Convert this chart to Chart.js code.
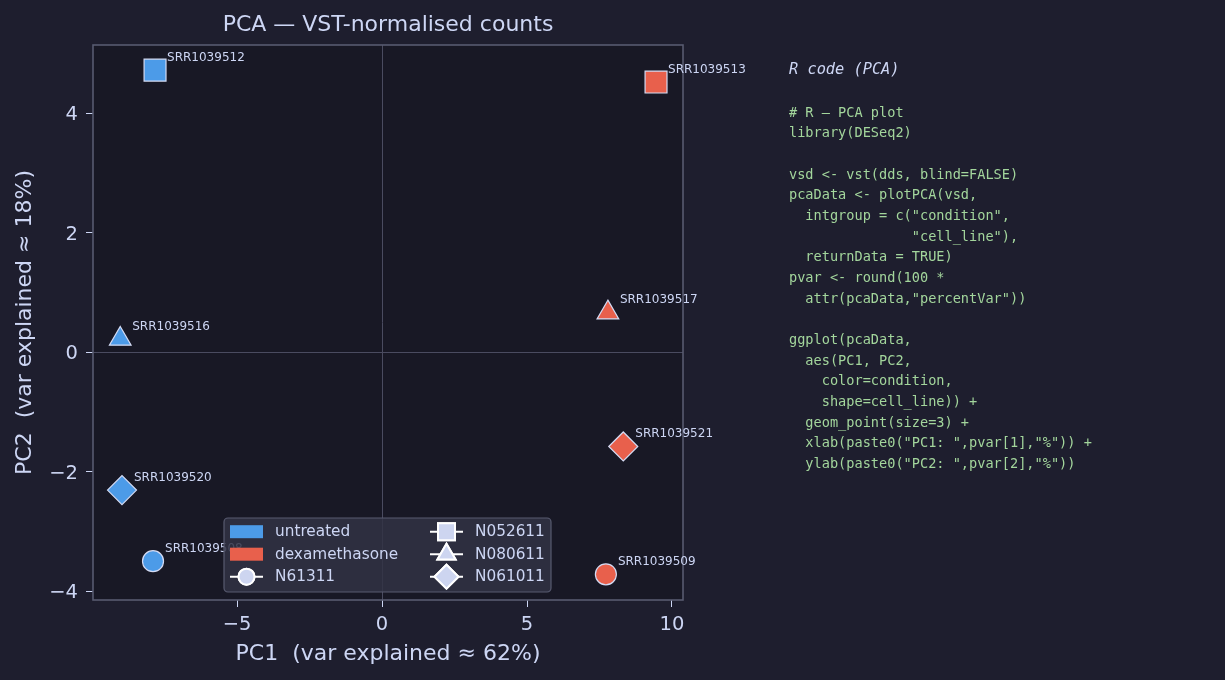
<!DOCTYPE html>
<html>
<head>
<meta charset="utf-8">
<title>PCA — VST-normalised counts</title>
<script src="https://cdn.jsdelivr.net/npm/chart.js@4/dist/chart.umd.min.js"></script>
<style>
  html, body { margin: 0; padding: 0; background: #1e1e2e; }
  #wrap { position: relative; width: 1225px; height: 680px; overflow: hidden; }
  #pca { position: absolute; left: 0; top: 0; }
  #code-title {
    position: absolute; left: 789px; top: 59px;
    font: italic 15.3px 'DejaVu Sans Mono', monospace;
    line-height: 20px; color: #cdd6f4; white-space: pre;
  }
  #code {
    position: absolute; left: 789px; top: 101.7px; margin: 0;
    font: 13.6px 'DejaVu Sans Mono', monospace;
    line-height: 20.65px; color: #a3d69c;
  }
</style>
</head>
<body>
<div id="wrap">
  <canvas id="pca" width="1225" height="680"></canvas>
  <div id="code-title">R code (PCA)</div>
<pre id="code"># R — PCA plot
library(DESeq2)

vsd &lt;- vst(dds, blind=FALSE)
pcaData &lt;- plotPCA(vsd,
  intgroup = c("condition",
               "cell_line"),
  returnData = TRUE)
pvar &lt;- round(100 *
  attr(pcaData,"percentVar"))

ggplot(pcaData,
  aes(PC1, PC2,
    color=condition,
    shape=cell_line)) +
  geom_point(size=3) +
  xlab(paste0("PC1: ",pvar[1],"%")) +
  ylab(paste0("PC2: ",pvar[2],"%"))</pre>
</div>
<script>
// サンプルと主成分スコア
const samples = ['SRR1039508', 'SRR1039509', 'SRR1039512', 'SRR1039513',
                 'SRR1039516', 'SRR1039517', 'SRR1039520', 'SRR1039521'];
const sampleCondition = ['untreated', 'dexamethasone', 'untreated', 'dexamethasone',
                         'untreated', 'dexamethasone', 'untreated', 'dexamethasone'];
const sampleCellLine = ['N61311', 'N61311', 'N052611', 'N052611',
                        'N080611', 'N080611', 'N061011', 'N061011'];
const pc1 = [-7.90, 7.72, -7.83, 9.45, -9.03, 7.79, -8.97, 8.32];
const pc2 = [-3.50, -3.72, 4.72, 4.52, 0.22, 0.66, -2.31, -1.58];

const conditions = ['untreated', 'dexamethasone'];
const cellLines = ['N61311', 'N052611', 'N080611', 'N061011'];

const xTicks = [-5, 0, 5, 10];
const yTicks = [-4, -2, 0, 2, 4];
const xRange = [-9.97, 10.38];
const yRange = [-4.15, 5.14];

// 見た目の設定
const TEXT = '#cdd6f4';
const FRAME = '#585b70';
const CONDITION_COLORS = { untreated: '#4c9be8', dexamethasone: '#e8604c' };
const SHAPES = {
  N61311: { style: 'circle', r: 10.5, legendR: 8 },
  N052611: { style: 'rect', r: 15.5, legendR: 12 },
  N080611: { style: 'triangle', r: 12.5, legendR: 10.5 },
  N061011: { style: 'rectRot', r: 14.5, legendR: 12 },
};

Chart.defaults.font.family = "'DejaVu Sans', sans-serif";

const fmtTick = (v) => (v < 0 ? '\u2212' + Math.abs(v) : String(v));

// プロット領域の背景と枠
const plotFrame = {
  id: 'plotFrame',
  beforeDraw(chart) {
    const { ctx, chartArea: a } = chart;
    ctx.save();
    ctx.fillStyle = '#181825';
    ctx.fillRect(a.left, a.top, a.right - a.left, a.bottom - a.top);
    ctx.restore();
  },
  beforeDatasetsDraw(chart) {
    const { ctx, chartArea: a } = chart;
    ctx.save();
    ctx.strokeStyle = FRAME;
    ctx.lineWidth = 1.6;
    ctx.strokeRect(a.left, a.top, a.right - a.left, a.bottom - a.top);
    ctx.restore();
  },
};

// 各点のサンプル名
const sampleLabels = {
  id: 'sampleLabels',
  afterDatasetsDraw(chart) {
    const { ctx } = chart;
    const meta = chart.getDatasetMeta(0);
    ctx.save();
    ctx.fillStyle = TEXT;
    ctx.font = "12px 'DejaVu Sans', sans-serif";
    ctx.textAlign = 'left';
    ctx.textBaseline = 'middle';
    meta.data.forEach((pt, i) => {
      ctx.fillText(samples[i], pt.x + 12, pt.y - 12.5);
    });
    ctx.restore();
  },
};

// 凡例（プロット内に配置）
const insideLegend = {
  id: 'insideLegend',
  afterDraw(chart) {
    const { ctx, chartArea: a } = chart;
    const items = [
      ...conditions.map((c) => ({ kind: 'patch', label: c, color: CONDITION_COLORS[c] })),
      ...cellLines.map((cl) => ({ kind: 'marker', label: cl, shape: SHAPES[cl] })),
    ];
    const rows = 3;
    const boxX = a.left + 131;
    const boxY = a.bottom - 82;
    const boxW = 327;
    const boxH = 74;
    const rowH = 22.5;
    const colW = 200;

    ctx.save();
    ctx.beginPath();
    ctx.roundRect(boxX, boxY, boxW, boxH, 4);
    ctx.fillStyle = 'rgba(49, 50, 68, 0.85)';
    ctx.fill();
    ctx.strokeStyle = FRAME;
    ctx.lineWidth = 1.2;
    ctx.stroke();

    ctx.font = "15.3px 'DejaVu Sans', sans-serif";
    ctx.textBaseline = 'middle';
    ctx.textAlign = 'left';

    items.forEach((it, i) => {
      const col = Math.floor(i / rows);
      const row = i % rows;
      const hx = boxX + 6 + col * colW;
      const cy = boxY + 13.7 + row * rowH;
      if (it.kind === 'patch') {
        ctx.fillStyle = it.color;
        ctx.fillRect(hx, cy - 6.5, 33, 13);
      } else {
        ctx.strokeStyle = '#ffffff';
        ctx.lineWidth = 2;
        ctx.beginPath();
        ctx.moveTo(hx, cy);
        ctx.lineTo(hx + 33, cy);
        ctx.stroke();
        Chart.helpers.drawPoint(ctx, {
          pointStyle: it.shape.style,
          radius: it.shape.legendR,
          borderWidth: 2,
          rotation: 0,
        }, hx + 16.5, cy);
        ctx.fillStyle = '#cdd5f0';
        ctx.fill();
        ctx.stroke();
      }
      ctx.fillStyle = TEXT;
      ctx.fillText(it.label, hx + 45, cy + 0.8);
    });
    ctx.restore();
  },
};

new Chart(document.getElementById('pca'), {
  type: 'scatter',
  data: {
    datasets: [{
      label: 'samples',
      data: pc1.map((x, i) => ({ x, y: pc2[i] })),
      backgroundColor: sampleCondition.map((c) => CONDITION_COLORS[c]),
      pointStyle: sampleCellLine.map((cl) => SHAPES[cl].style),
      pointRadius: sampleCellLine.map((cl) => SHAPES[cl].r),
      pointHoverRadius: sampleCellLine.map((cl) => SHAPES[cl].r),
      borderColor: '#d4dbf4',
      borderWidth: 1.2,
    }],
  },
  options: {
    responsive: false,
    animation: false,
    events: [],
    layout: { padding: { left: 0, right: 542, top: 0, bottom: 0 } },
    plugins: {
      legend: { display: false },
      tooltip: { enabled: false },
      title: {
        display: true,
        text: 'PCA — VST-normalised counts',
        color: TEXT,
        fullSize: false,
        font: { size: 22, weight: 'normal' },
        padding: { top: 12, bottom: 6.6 },
      },
    },
    scales: {
      x: {
        type: 'linear',
        position: 'bottom',
        min: xRange[0],
        max: xRange[1],
        afterFit: (s) => { s.height = 80; },
        afterBuildTicks: (s) => { s.ticks = xTicks.map((v) => ({ value: v })); },
        ticks: { color: TEXT, font: { size: 19.5 }, padding: 6, callback: fmtTick },
        grid: {
          color: (c) => (c.tick && c.tick.value === 0 ? '#4a4b60' : 'transparent'),
          tickColor: TEXT,
          tickLength: 7,
          lineWidth: 1,
        },
        border: { display: false },
        title: {
          display: true,
          text: 'PC1  (var explained ≈ 62%)',
          color: TEXT,
          font: { size: 22 },
          padding: { top: 0, bottom: 12.8 },
        },
      },
      y: {
        type: 'linear',
        position: 'left',
        min: yRange[0],
        max: yRange[1],
        afterFit: (s) => { s.width = 93; },
        afterBuildTicks: (s) => { s.ticks = yTicks.map((v) => ({ value: v })); },
        ticks: { color: TEXT, font: { size: 19.5 }, padding: 8, labelOffset: 2, callback: fmtTick },
        grid: {
          color: (c) => (c.tick && c.tick.value === 0 ? '#4a4b60' : 'transparent'),
          tickColor: TEXT,
          tickLength: 7,
          lineWidth: 1,
        },
        border: { display: false },
        title: {
          display: true,
          text: 'PC2  (var explained ≈ 18%)',
          color: TEXT,
          font: { size: 22 },
          padding: { top: 12.3, bottom: 0 },
        },
      },
    },
  },
  plugins: [plotFrame, sampleLabels, insideLegend],
});
</script>
</body>
</html>
